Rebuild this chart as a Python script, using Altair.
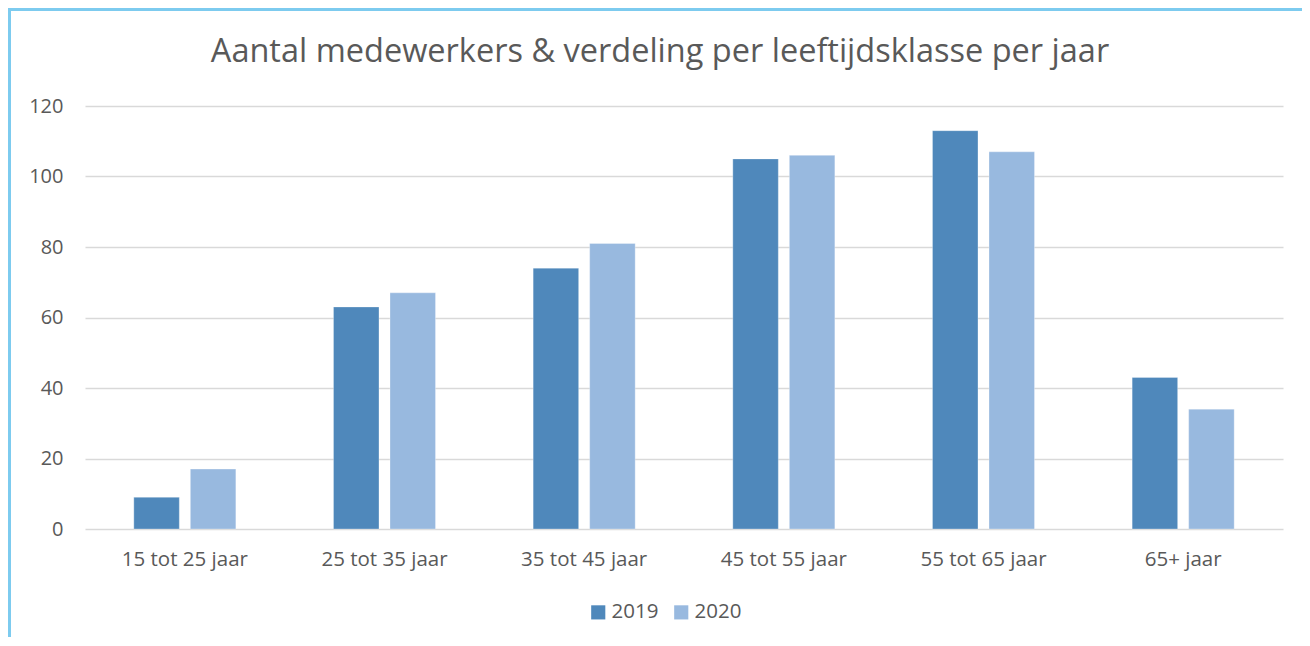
import altair as alt
import pandas as pd

title_text = ["Aantal medewerkers & verdeling per leeftijdsklasse per jaar"]
categories = ["15 tot 25 jaar", "25 tot 35 jaar", "35 tot 45 jaar",
              "45 tot 55 jaar", "55 tot 65 jaar", "65+ jaar"]
years = ["2019", "2020"]
v2019 = [9, 63, 74, 105, 113, 43]
v2020 = [17, 67, 81, 106, 107, 34]
colors = ["#4F88BB", "#98B9DF"]

rows = []
for c, a, b in zip(categories, v2019, v2020):
    rows.append({"cat": c, "year": "2019", "value": a})
    rows.append({"cat": c, "year": "2020", "value": b})
df = pd.DataFrame(rows)

FONT = "Open Sans"
TXT = "#595959"
W, H = 1198, 423
PL, PT = 77, 98

bars = alt.Chart(df).mark_bar(stroke="white", strokeWidth=0.6, strokeOpacity=0.5).encode(
    x=alt.X("cat:N", sort=categories, title=None,
            scale=alt.Scale(paddingInner=0.489, paddingOuter=0.2445),
            axis=alt.Axis(labelAngle=0, labelFontSize=20.5, labelColor=TXT, labelFont=FONT,
                          labelPadding=20, ticks=False, domain=False, grid=False)),
    xOffset=alt.XOffset("year:N", scale=alt.Scale(paddingInner=0.195, paddingOuter=0)),
    y=alt.Y("value:Q", title=None,
            scale=alt.Scale(domain=[0, 120], nice=False),
            axis=alt.Axis(values=[0, 20, 40, 60, 80, 100, 120], labelFontSize=20,
                          labelColor=TXT, labelFont=FONT, labelPadding=22,
                          ticks=False, domain=False, gridColor="#D9D9D9",
                          gridWidth=1.5)),
    color=alt.Color("year:N", scale=alt.Scale(domain=years, range=colors),
                    legend=alt.Legend(title=None, orient="none", direction="horizontal",
                                      legendX=503, legendY=496, symbolType="square",
                                      symbolSize=200, symbolStrokeWidth=0,
                                      labelFontSize=20.5, labelColor=TXT, labelFont=FONT,
                                      labelOffset=3, columnPadding=12)),
)

title = alt.Chart(pd.DataFrame({"t": title_text})).mark_text(
    font=FONT, fontSize=32.5, color=TXT, align="center", baseline="alphabetic"
).encode(text="t:N", x=alt.value(575), y=alt.value(-44))

border_left = alt.Chart(df).mark_rule(color="#7DCBEF", strokeWidth=3).encode(
    x=alt.value(-PL + 1.5), y=alt.value(-PT), y2=alt.value(H + 200))
border_top = alt.Chart(df).mark_rule(color="#7DCBEF", strokeWidth=3).encode(
    x=alt.value(-PL), x2=alt.value(W + 100), y=alt.value(-PT + 1.5))

chart = alt.layer(bars, title, border_left, border_top).properties(
    width=W, height=H,
    autosize=alt.AutoSizeParams(type="none"),
    padding={"left": PL, "top": PT, "right": 19, "bottom": 108},
).configure_view(stroke=None)

chart.save("out.html", embed_options={"renderer": "svg", "actions": False})
